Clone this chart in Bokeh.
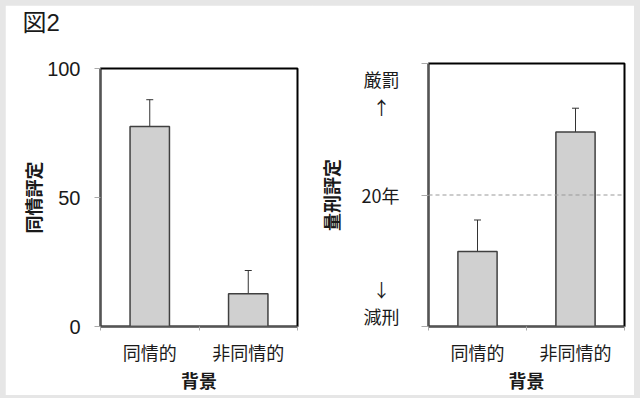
from bokeh.plotting import figure
from bokeh.layouts import row, column
from bokeh.models import (ColumnDataSource, Range1d, FixedTicker, Whisker,
                          TeeHead, Span)
from bokeh.embed import file_html
from bokeh.resources import INLINE

# ---- data ----
categories = ["同情的", "非同情的"]
sympathy_mean = [77.5, 12.7]
sympathy_low = [67.3, 3.6]
sympathy_high = [87.9, 21.7]
sentence_mean = [11.4, 29.6]
sentence_low = [6.7, 25.9]
sentence_high = [16.2, 33.2]
sympathy_ticks = [0, 50, 100]
sentence_ticks = [0, 20, 40]
# label anchors on the sentence axis (lenient ... 20 years ... severe)
sentence_label_pos = [3.6, 20, 35.5]
sentence_labels = ["↓\u2002\n減刑", "20年", "厳罰\n↑\u2002"]
sentence_ref = 20
x_title = "背景"
left_title = "同情評定"
right_title = "量刑評定"
fig_title = "図2"

CJK = "Noto Sans CJK JP"
MIX = "Liberation Sans, Noto Sans CJK JP"
BAR_FILL = "#d0d0d0"
BAR_LINE = "#404040"
TXT = "#1a1a1a"


def make_panel(width, means, lows, highs, ymax, ytitle,
               border_left, border_right, border_top, margin):
    xs = [i + 0.5 for i in range(len(categories))]
    src = ColumnDataSource(dict(x=xs, top=means, lower=lows, upper=highs))
    p = figure(width=width, height=390, output_backend="svg",
               toolbar_location=None,
               x_range=Range1d(0, len(categories)), y_range=Range1d(0, ymax),
               min_border_left=border_left, min_border_right=border_right,
               min_border_top=border_top, min_border_bottom=69)
    p.margin = margin
    p.background_fill_color = "white"
    p.border_fill_color = "white"
    p.outline_line_color = "black"
    p.outline_line_width = 2
    p.grid.visible = False

    p.vbar(x="x", top="top", bottom=0, width=0.4, source=src,
           fill_color=BAR_FILL, line_color=BAR_LINE, line_width=1.5)
    w = Whisker(base="x", lower="lower", upper="upper", source=src,
                dimension="height", line_color="#333333", line_width=1,
                upper_head=TeeHead(size=7, line_color="#333333", line_width=1),
                lower_head=TeeHead(size=7, line_color="#333333", line_width=1))
    p.add_layout(w)

    # x axis
    xa = p.xaxis[0]
    xa.ticker = FixedTicker(ticks=xs,
                            minor_ticks=list(range(len(categories) + 1)))
    xa.major_label_overrides = {x: c for x, c in zip(xs, categories)}
    xa.major_tick_out = 0
    xa.major_tick_in = 0
    xa.minor_tick_out = 4
    xa.minor_tick_in = 0
    xa.minor_tick_line_color = "#aaaaaa"
    xa.axis_line_color = "#555555"
    xa.axis_line_width = 1.5
    xa.major_label_standoff = 8
    xa.major_label_text_font = CJK
    xa.major_label_text_font_size = "18px"
    xa.major_label_text_color = TXT
    xa.axis_label = x_title
    xa.axis_label_standoff = -1
    xa.axis_label_text_font = CJK
    xa.axis_label_text_font_size = "18px"
    xa.axis_label_text_font_style = "bold"
    xa.axis_label_text_color = TXT

    # y axis
    ya = p.yaxis[0]
    ya.axis_line_color = "#555555"
    ya.axis_line_width = 1.5
    ya.major_label_text_font = MIX
    ya.major_label_text_color = TXT
    ya.axis_label = ytitle
    ya.axis_label_text_font = CJK
    ya.axis_label_text_font_size = "18px"
    ya.axis_label_text_font_style = "bold"
    ya.axis_label_text_color = TXT
    return p


# left panel: sympathy rating
p1 = make_panel(308, sympathy_mean, sympathy_low, sympathy_high, 100,
                left_title, 95, 16, 63, (5, 0, 3, 5))
ya1 = p1.yaxis[0]
ya1.ticker = FixedTicker(ticks=sympathy_ticks, minor_ticks=[])
ya1.major_tick_out = 6
ya1.major_tick_in = 0
ya1.major_tick_line_color = "#aaaaaa"
ya1.major_label_text_font_size = "20px"
ya1.major_label_standoff = 14
ya1.axis_label_standoff = -2
p1.title.text = fig_title + "\n"
p1.title.align = "left"
p1.title.vertical_align = "top"
p1.title.offset = -78
p1.title.standoff = 2
p1.title.text_line_height = 1.1
p1.title.text_font = MIX
p1.title.text_font_size = "24px"
p1.title.text_font_style = "normal"
p1.title.text_color = TXT

# right panel: sentencing rating
p2 = make_panel(322, sentence_mean, sentence_low, sentence_high, 40,
                right_title, 116, 10, 58, (5, 6, 3, -1))
ya2 = p2.yaxis[0]
ya2.ticker = FixedTicker(ticks=sentence_label_pos, minor_ticks=sentence_ticks)
ya2.major_label_overrides = {t: l for t, l in zip(sentence_label_pos,
                                                  sentence_labels)}
ya2.major_tick_out = 0
ya2.major_tick_in = 0
ya2.minor_tick_out = 7
ya2.minor_tick_in = 0
ya2.minor_tick_line_color = "#aaaaaa"
ya2.major_label_text_font = CJK
ya2.major_label_text_font_size = "18px"
ya2.major_label_text_align = "center"
ya2.major_label_text_line_height = 1.05
ya2.major_label_standoff = 22
ya2.axis_label_standoff = 15
p2.add_layout(Span(location=sentence_ref, dimension="width",
                   line_color="#999999", line_width=1, line_dash="4 3"))

layout = row(p1, column(p2), spacing=0,
             styles={"background-color": "#e6e6e6"})
open("out.html", "w").write(file_html(layout, INLINE))
